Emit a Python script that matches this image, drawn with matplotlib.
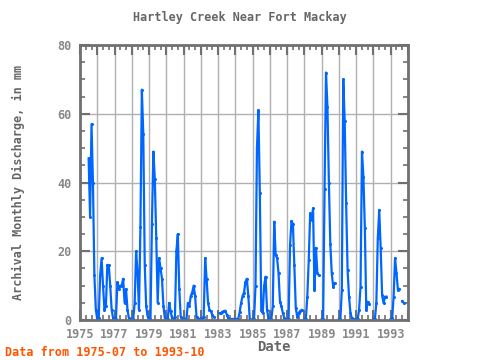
import numpy as np
import matplotlib
matplotlib.use("Agg")
import matplotlib.pyplot as plt
from matplotlib.ticker import MultipleLocator

nan = np.nan
title = "Hartley Creek Near Fort Mackay"
ylabel = "Archival Monthly Discharge, in mm"
xlabel = "Date"
note = "Data from 1975-07 to 1993-10"

start_year, start_month = 1975, 7
v1975 = [47, 30, 57, 40, 13, 3]
v1976 = [0.3, 0.5, 13, 18, 10, 3, 4, 16, 16, 10, 3, 0.5]
v1977 = [0.3, 0.3, 11, 9, 10, 10, 12, 5, 9, 3, 0.5, 0.3]
v1978 = [0.3, 0.3, 5, 20, 14, 3, 27, 67, 54, 16, 4, 1]
v1979 = [0.3, 0.3, 28, 49, 41, 24, 5, 18, 15, 12, 4, 0.5]
v1980 = [0.3, 0.3, 5, 2.5, 0.5, 0.3, 1, 20, 25, 9, 1, 0.3]
v1981 = [0.3, 0.3, 0.3, 5, 4, 7, 8, 10, 7, 1, 0.3, 0.3]
v1982 = [0.5, 0.5, 1, 18, 12, 5, 3, 2.5, 1.5, 1, nan, nan]
v1983 = [nan, 2, 2, 2.4, 2.6, 2.7, 1.6, 0.5, 0.3, 0.3, 0.3, 0.3]
v1984 = [0.3, 0.3, 0.3, 2.4, 5, 7, 8, 11, 12, 7, 0.3, nan]
v1985 = [0.2, 0.3, 10, 50, 61, 37, 3, 2, 10, 12.6, 3, 0.5]
v1986 = [0.2, 0.3, 4, 28.6, 19, 18, 13.6, 5.3, 4, 2, 0.5, 0.2]
v1987 = [0.2, 0.2, 21.8, 28.8, 28, 16, 3.4, 1, 2, 2.6, 2.9, nan]
v1988 = [0.2, 0.3, 6.8, 17.5, 31, 29, 32.5, 8.7, 21, 13.6, 13, nan]
v1989 = [0.2, 0.3, 38, 72, 62, 40, 22, 13.6, 9.7, 10.7, nan, nan]
v1990 = [0.2, 0.3, 8.7, 70, 57.8, 34, 14.6, 6.8, 2, 0.5, 0.3, 0.2]
v1991 = [0.2, 0.3, 2.9, 9.7, 49, 41.7, 26.7, 3, 5.3, 4.7, nan, nan]
v1992 = [0.3, 0.3, 4.9, 23.8, 32, 21, 7.3, 4.9, 6.8, 6.8, nan, nan]
v1993 = [0.3, 0.5, 6.8, 18, 13.6, 8.7, 9, nan, 5.5, 5]

values = np.array(v1975 + v1976 + v1977 + v1978 + v1979 + v1980 + v1981 + v1982
                  + v1983 + v1984 + v1985 + v1986 + v1987 + v1988 + v1989 + v1990
                  + v1991 + v1992 + v1993, dtype=float)
idx = np.arange(len(values)) + (start_month - 1)
dates = start_year + idx / 12.0

xticks = list(range(1975, 1994, 2))
yticks = [0, 20, 40, 60, 80]

gray = "#707070"
fig = plt.figure(figsize=(4.8, 3.6), dpi=100)
ax = fig.add_axes([80 / 480, 40 / 360, 328 / 480, 275 / 360])
ax.plot(dates, values, color="#0066ff", lw=1.6, marker="o", ms=2.2, mew=0)
ax.set_xlim(1975, 1994)
ax.set_ylim(0, 80)
ax.set_xticks(xticks)
ax.set_xticklabels([str(x) for x in xticks])
ax.xaxis.set_minor_locator(MultipleLocator(1 / 3))
ax.set_yticks(yticks)
ax.yaxis.set_minor_locator(MultipleLocator(5))
for y in range(1975, 1995):
    ax.axvline(y, color="#b0b0b0", lw=1, zorder=0)
for y in [20, 40, 60]:
    ax.axhline(y, color="#b0b0b0", lw=1, zorder=0)
# major ticks on each year
from matplotlib.ticker import FixedLocator
ax.xaxis.set_major_locator(FixedLocator(list(range(1975, 1995))))
ax.set_xticklabels([str(y) if (y - 1975) % 2 == 0 else "" for y in range(1975, 1995)])
ax.tick_params(which="major", direction="in", length=7, width=1.5, color=gray,
               top=True, right=True, labelsize=8.5, labelcolor="#888888", pad=6)
ax.tick_params(which="minor", direction="in", length=3.5, width=1.2, color=gray,
               top=True, right=True)
for lab in ax.get_xticklabels() + ax.get_yticklabels():
    lab.set_family("DejaVu Sans Mono")
    lab.set_fontweight("bold")
for s in ax.spines.values():
    s.set_color(gray)
    s.set_linewidth(2)
fig.text(240 / 480, 1 - 18 / 360, title, ha="center", va="center",
         family="DejaVu Sans Mono", fontsize=8.5, fontweight="bold", color="#666666")
fig.text(18 / 480, 1 - 182 / 360, ylabel, ha="center", va="center", rotation=90,
         family="DejaVu Sans Mono", fontsize=8.5, fontweight="bold", color="#666666")
fig.text(274 / 480, 1 - 347 / 360, xlabel, ha="center", va="center",
         family="DejaVu Sans Mono", fontsize=10, fontweight="bold", color="#666666")
fig.text(5 / 480, 1 - 352 / 360, note, ha="left", va="center",
         family="DejaVu Sans Mono", fontsize=8.5, fontweight="bold", color="#ff5500")
fig.savefig("out.png", dpi=100)
